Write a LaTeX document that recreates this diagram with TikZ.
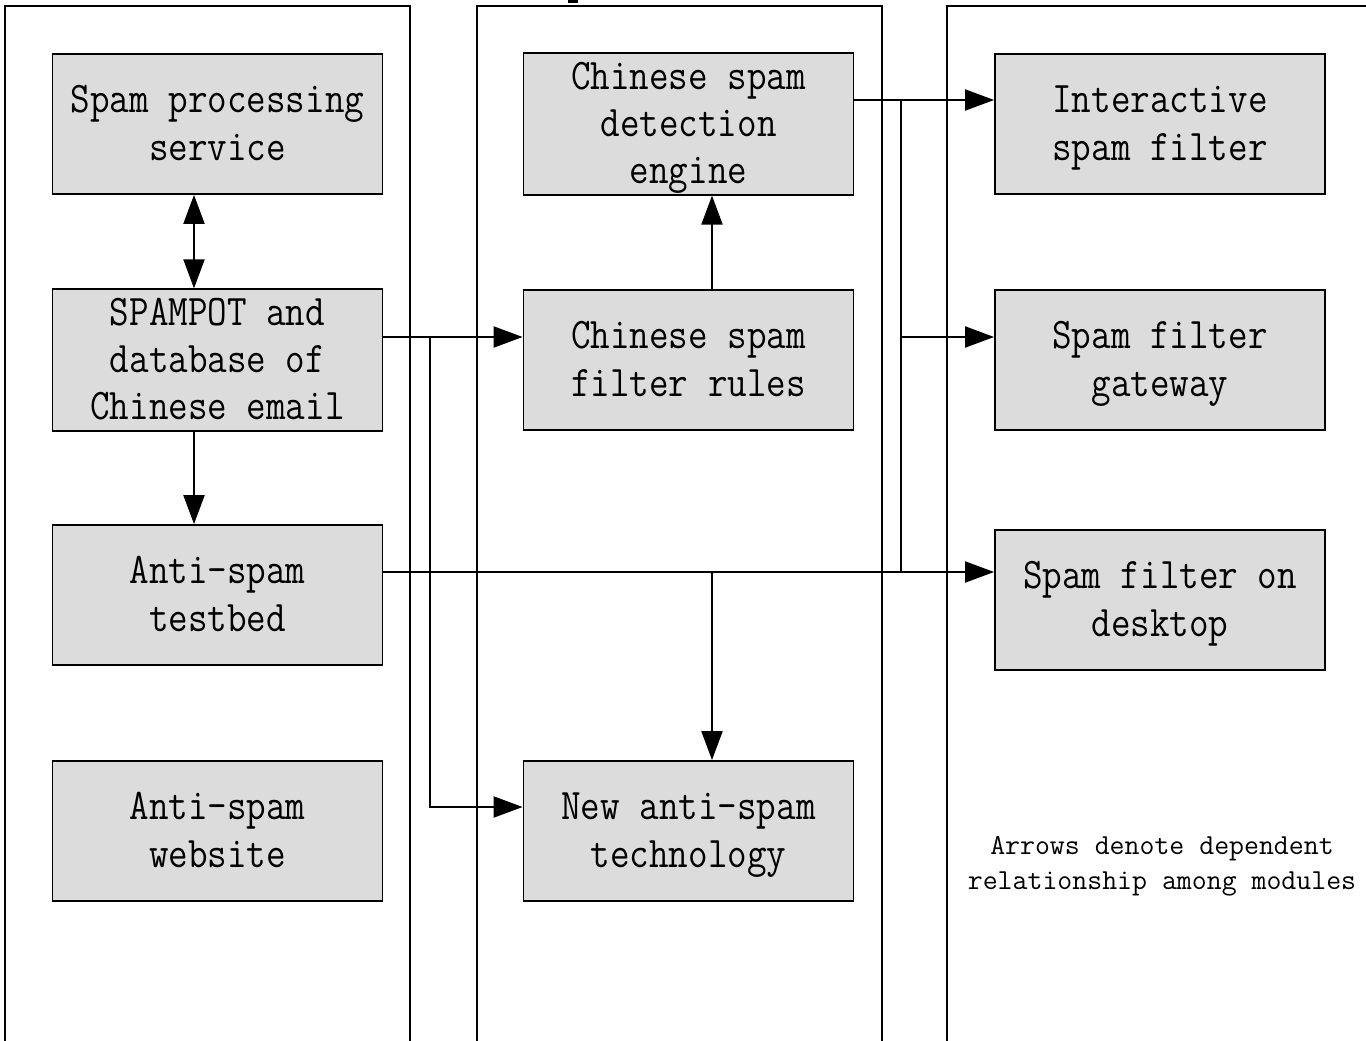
\documentclass[tikz,border=0pt]{standalone}
\usepackage{graphicx}
\usetikzlibrary{arrows.meta}
\newcommand\talltext[1]{\raisebox{-3pt}[\height][\depth]{\scalebox{1}[1.15]{\begin{tabular}{@{}c@{}}#1\end{tabular}}}}
\begin{document}
\begin{tikzpicture}[x=1pt,y=-1pt,
  module/.style={draw=black,line width=1.8pt,fill=boxgray,minimum width=330pt,minimum height=140pt,inner sep=0pt,
    align=center,font=\fontsize{38}{41}\selectfont\ttfamily},
  frame/.style={draw=black,line width=2pt},
  link/.style={draw=black,line width=2pt,-{Triangle[length=29pt,width=21pt]}},
  plain/.style={draw=black,line width=2pt},
  note/.style={align=center,font=\fontsize{29}{35}\selectfont\ttfamily}]
\definecolor{boxgray}{HTML}{DCDCDC}
\useasboundingbox (0,0) rectangle (1366,1041);
% column frames (open at bottom)
\draw[frame] (5,1050) -- (5,6.5) -- (410,6.5) -- (410,1050);
\draw[frame] (477,1050) -- (477,6.5) -- (882,6.5) -- (882,1050);
\draw[frame] (947,1050) -- (947,6.5) -- (1375,6.5);
\fill (568,-1) rectangle (578,3);
% modules
\node[module] (sps) at (217.5,124) {\talltext{Spam processing\\service}};
\node[module] (pot) at (217.5,360) {\talltext{SPAMPOT and\\database of\\Chinese email}};
\node[module] (bed) at (217.5,595) {\talltext{Anti-spam\\testbed}};
\node[module] (web) at (217.5,831) {\talltext{Anti-spam\\website}};
\node[module] (eng) at (688.5,124) {\talltext{Chinese spam\\detection\\engine}};
\node[module] (rul) at (688.5,360) {\talltext{Chinese spam\\filter rules}};
\node[module] (new) at (688.5,831) {\talltext{New anti-spam\\technology}};
\node[module] (int) at (1160,124) {\talltext{Interactive\\spam filter}};
\node[module] (gat) at (1160,360) {\talltext{Spam filter\\gateway}};
\node[module] (dsk) at (1160,600) {\talltext{Spam filter on\\desktop}};
\node[note] (nt) at (1162,866) {Arrows denote dependent\\relationship among modules};
% junctions
\coordinate (j1) at (430,337);
\coordinate (j2) at (901,100);
\coordinate (j3) at (901,572);
\coordinate (j4) at (712,572);
\coordinate (j5) at (901,337);
% connectors
\draw[link,{Triangle[length=29pt,width=21pt]}-{Triangle[length=29pt,width=21pt]}] ([xshift=-23.5pt]sps.south) -- ([xshift=-23.5pt]pot.north);
\draw[link] ([xshift=-23.5pt]pot.south) -- ([xshift=-23.5pt]bed.north);
\draw[link] ([yshift=23pt]pot.east) -- ([yshift=23pt]rul.west);
\draw[link] (j1) |- ([yshift=24pt]new.west);
\draw[link] ([xshift=23.5pt]rul.north) -- ([xshift=23.5pt]eng.south);
\draw[link] ([yshift=24pt]eng.east) -- ([yshift=24pt]int.west);
\draw[plain] (j2) -- (j3);
\draw[link] (j5) -- ([yshift=23pt]gat.west);
\draw[link] ([yshift=23pt]bed.east) -- ([yshift=28pt]dsk.west);
\draw[link] (j4) -- ([xshift=23.5pt]new.north);
\end{tikzpicture}
\end{document}
